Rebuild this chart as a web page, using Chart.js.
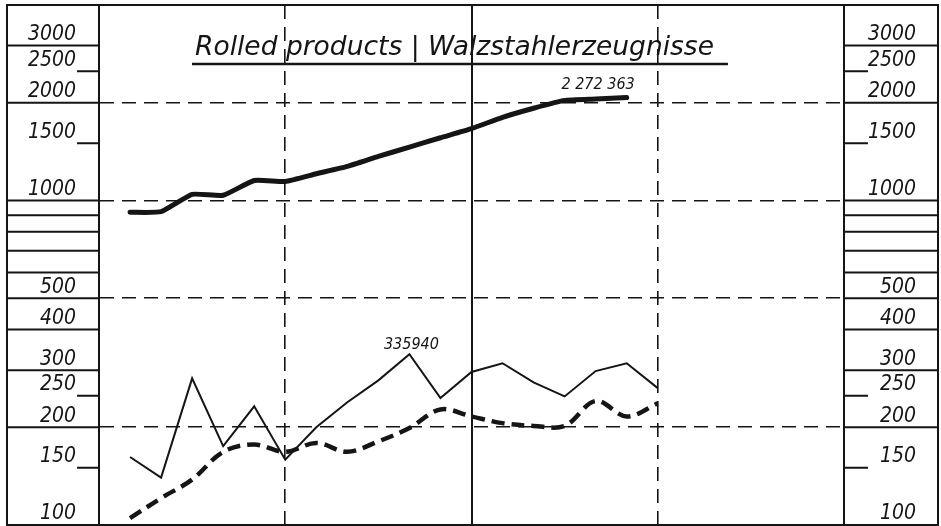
<!DOCTYPE html>
<html>
<head>
<meta charset="utf-8">
<script src="https://cdn.jsdelivr.net/npm/chart.js@4.4.1/dist/chart.umd.min.js"></script>
<style>
  html, body { margin: 0; padding: 0; background: #fff; }
  #wrap { width: 941px; height: 526px; }
</style>
</head>
<body>
<div id="wrap"><canvas id="rolledChart"></canvas></div>
<script>
// x positions: 6 steps per column, 4 columns (0..24)
const periods = [1, 2, 3, 4, 5, 6, 7, 8, 9, 10, 11, 12, 13, 14, 15, 16, 17, 18];

// heavy upper line
const totalRolled = [919, 923, 1044, 1037, 1152, 1144, 1208, 1273, 1366, 1460, 1560, 1664, 1803, 1923, 2033, 2054, 2075];
// thin lower line
const lowerSolid = [162, 140, 283, 175, 232, 159, 200, 239, 279, 336, 246, 296, 315, 275, 249, 298, 315, 264];
// heavy dashed lower line
const lowerDashed = [105, 121, 138, 168, 177, 168, 179, 168, 181, 199, 227, 216, 206, 202, 202, 241, 216, 237];

const yTickValues = [100, 150, 200, 250, 300, 400, 500, 600, 700, 800, 900, 1000, 1500, 2000, 2500, 3000];
const yTickLabels = ['100', '150', '200', '250', '300', '400', '500', '', '', '', '', '1000', '1500', '2000', '2500', '3000'];

const titleText = 'Rolled products | Walzstahlerzeugnisse';
const topPeakLabel = '2 272 363';
const lowPeakLabel = '335940';

const ink = '#151515';
const FONT = "'DejaVu Sans Condensed', 'Liberation Sans Narrow', 'DejaVu Sans', sans-serif";
const shortTicks = [150, 250, 1500, 2500];
const dashedRows = [200, 500, 1000, 2000];

const toPoints = vals => vals.map((v, i) => ({ x: periods[i], y: v }));

// frame, label-column rules, title and the two peak labels
const chartFurniture = {
    id: 'chartFurniture',
    afterDraw(chart) {
        const { ctx, chartArea: area, scales: { y, y2 } } = chart;
        const outerLeft = y.left;
        const outerRight = y2.right + 22;

        ctx.save();
        ctx.strokeStyle = ink;
        ctx.lineWidth = 2;
        ctx.strokeRect(outerLeft, area.top, outerRight - outerLeft, area.bottom - area.top);

        yTickValues.forEach(v => {
            if (v === 100) return;
            const py = y.getPixelForValue(v);
            const isShort = shortTicks.includes(v);
            ctx.beginPath();
            ctx.moveTo(isShort ? area.left - 22 : outerLeft, py);
            ctx.lineTo(area.left, py);
            ctx.moveTo(area.right, py);
            ctx.lineTo(isShort ? area.right + 24 : outerRight, py);
            ctx.stroke();
        });

        // title
        ctx.fillStyle = ink;
        ctx.font = "italic 26.5px 'DejaVu Sans', sans-serif";
        ctx.textAlign = 'left';
        ctx.textBaseline = 'alphabetic';
        const tx = area.left + 96;
        const ty = area.top + 50;
        ctx.fillText(titleText, tx, ty);
        const tw = ctx.measureText(titleText).width;
        ctx.lineWidth = 2.5;
        ctx.beginPath();
        ctx.moveTo(tx - 3, ty + 9);
        ctx.lineTo(tx + tw + 14, ty + 9);
        ctx.stroke();

        // peak labels
        ctx.font = 'italic 16px ' + FONT;
        const topPts = chart.getDatasetMeta(0).data;
        const last = topPts[topPts.length - 1];
        ctx.textAlign = 'right';
        ctx.fillText(topPeakLabel, last.x + 8, last.y - 9);

        const lowPts = chart.getDatasetMeta(1).data;
        const iMax = lowerSolid.indexOf(Math.max(...lowerSolid));
        ctx.textAlign = 'center';
        ctx.fillText(lowPeakLabel, lowPts[iMax].x + 2, lowPts[iMax].y - 5);
        ctx.restore();
    }
};

const yTicksSetter = scale => {
    scale.ticks = yTickValues.map(v => ({ value: v }));
};
const flatX = s => { s.height = 0; s.paddingLeft = 0; s.paddingRight = 0; };
const fixY = w => s => { s.width = w; s.paddingTop = 0; s.paddingBottom = 0; };

const ctx = document.getElementById('rolledChart').getContext('2d');

new Chart(ctx, {
    type: 'line',
    data: {
        datasets: [{
            label: 'Rolled products',
            data: toPoints(totalRolled),
            borderColor: ink,
            borderWidth: 5,
            pointRadius: 0,
            tension: 0.15,
            borderCapStyle: 'round'
        }, {
            label: 'Series 2',
            data: toPoints(lowerSolid),
            borderColor: ink,
            borderWidth: 2,
            pointRadius: 0,
            tension: 0
        }, {
            label: 'Series 3',
            data: toPoints(lowerDashed),
            borderColor: ink,
            borderWidth: 4.5,
            borderDash: [13, 7],
            pointRadius: 0,
            tension: 0.35
        }]
    },
    options: {
        responsive: true,
        maintainAspectRatio: false,
        animation: false,
        layout: { padding: { left: 7, right: 25, top: 5, bottom: 1 } },
        plugins: {
            legend: { display: false },
            tooltip: { enabled: false }
        },
        scales: {
            x: {
                type: 'linear',
                min: 0,
                max: 24,
                afterBuildTicks: s => { s.ticks = [{ value: 6 }, { value: 18 }]; },
                afterFit: flatX,
                ticks: { display: false },
                grid: { color: ink, lineWidth: 1.6, drawTicks: false },
                border: { color: ink, width: 2, dash: [14, 8] }
            },
            xTop: {
                type: 'linear',
                position: 'top',
                min: 0,
                max: 24,
                afterBuildTicks: s => { s.ticks = [{ value: 12 }]; },
                afterFit: flatX,
                ticks: { display: false },
                grid: { color: ink, lineWidth: 2, drawTicks: false },
                border: { color: ink, width: 2 }
            },
            y: {
                type: 'logarithmic',
                min: 100,
                max: 4000,
                afterBuildTicks: yTicksSetter,
                afterFit: fixY(92),
                ticks: {
                    autoSkip: false,
                    padding: 23,
                    labelOffset: -11,
                    color: ink,
                    font: { family: FONT, size: 21, style: 'italic' },
                    callback: (v, i) => yTickLabels[i]
                },
                grid: {
                    drawTicks: false,
                    lineWidth: 1.6,
                    color: c => (c.tick && dashedRows.includes(c.tick.value)) ? ink : 'rgba(0,0,0,0)'
                },
                border: { color: ink, width: 2, dash: [14, 8] }
            },
            y2: {
                type: 'logarithmic',
                position: 'right',
                min: 100,
                max: 4000,
                afterBuildTicks: yTicksSetter,
                afterFit: fixY(72),
                ticks: {
                    autoSkip: false,
                    crossAlign: 'far',
                    labelOffset: -11,
                    color: ink,
                    font: { family: FONT, size: 21, style: 'italic' },
                    callback: (v, i) => yTickLabels[i]
                },
                grid: { drawOnChartArea: false, drawTicks: false },
                border: { color: ink, width: 2 }
            }
        }
    },
    plugins: [chartFurniture]
});
</script>
</body>
</html>
